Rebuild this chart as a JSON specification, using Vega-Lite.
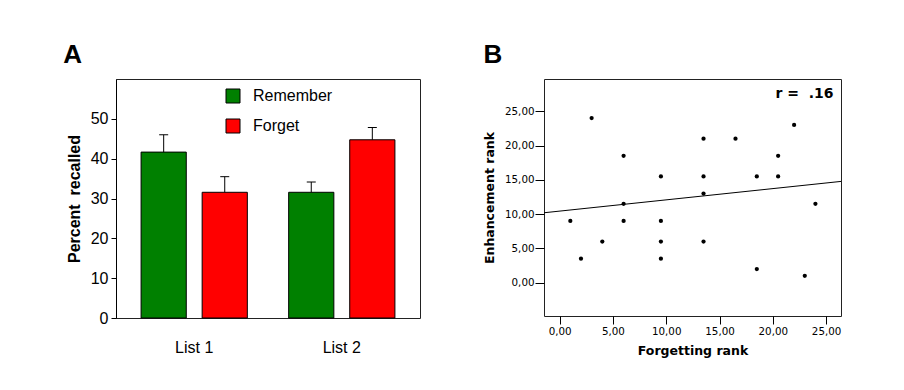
{
  "$schema": "https://vega.github.io/schema/vega-lite/v6.json",
  "background": "white",
  "padding": {"left": 62, "top": 41, "right": 0, "bottom": 0},
  "spacing": 62,
  "config": {
    "view": {"stroke": "#222222", "strokeWidth": 1},
    "axis": {"grid": false}
  },
  "datasets": {
    "bars": [
      {"list": "List 1", "cond": "Remember", "mean": 41.65, "upper": 46.0},
      {"list": "List 1", "cond": "Forget", "mean": 31.56, "upper": 35.48},
      {"list": "List 2", "cond": "Remember", "mean": 31.56, "upper": 34.14},
      {"list": "List 2", "cond": "Forget", "mean": 44.74, "upper": 47.83}
    ],
    "points": [
      {"forgetting": 1, "enhancement": 9},
      {"forgetting": 2, "enhancement": 3.5},
      {"forgetting": 3, "enhancement": 24},
      {"forgetting": 4, "enhancement": 6},
      {"forgetting": 6, "enhancement": 18.5},
      {"forgetting": 6, "enhancement": 11.5},
      {"forgetting": 6, "enhancement": 9},
      {"forgetting": 9.5, "enhancement": 15.5},
      {"forgetting": 9.5, "enhancement": 9},
      {"forgetting": 9.5, "enhancement": 6},
      {"forgetting": 9.5, "enhancement": 3.5},
      {"forgetting": 13.5, "enhancement": 21},
      {"forgetting": 13.5, "enhancement": 15.5},
      {"forgetting": 13.5, "enhancement": 13},
      {"forgetting": 13.5, "enhancement": 6},
      {"forgetting": 16.5, "enhancement": 21},
      {"forgetting": 18.5, "enhancement": 15.5},
      {"forgetting": 18.5, "enhancement": 2},
      {"forgetting": 20.5, "enhancement": 18.5},
      {"forgetting": 20.5, "enhancement": 15.5},
      {"forgetting": 22, "enhancement": 23},
      {"forgetting": 23, "enhancement": 1},
      {"forgetting": 24, "enhancement": 11.5}
    ],
    "fit": [
      {"forgetting": -1.47, "enhancement": 10.2},
      {"forgetting": 26.4, "enhancement": 14.77}
    ],
    "annot": [
      {"forgetting": 25.7, "enhancement": 27.0, "label": "r = \u00a0.16"}
    ]
  },
  "hconcat": [
    {
      "title": {"text": "A", "anchor": "start", "font": "Liberation Sans", "fontSize": 26, "fontWeight": "bold", "color": "black", "dx": -3, "offset": 11},
      "width": 304,
      "height": 239,
      "data": {"name": "bars"},
      "encoding": {
        "x": {
          "field": "list", "type": "nominal",
          "scale": {"paddingInner": 0.28, "paddingOuter": 0.17},
          "axis": {"title": null, "labelAngle": 0, "ticks": false, "domain": false, "labelFont": "Liberation Sans", "labelFontSize": 16, "labelColor": "black", "labelPadding": 21}
        },
        "xOffset": {"field": "cond", "type": "nominal", "sort": ["Remember", "Forget"], "scale": {"paddingInner": 0.26, "paddingOuter": 0}}
      },
      "layer": [
        {
          "mark": {"type": "bar", "stroke": "black", "strokeWidth": 1},
          "encoding": {
            "y": {
              "field": "mean", "type": "quantitative",
              "scale": {"domain": [0, 60], "nice": false},
              "axis": {"values": [0, 10, 20, 30, 40, 50], "title": "Percent \u00a0recalled", "titleFont": "Liberation Sans", "titleFontSize": 16, "titleFontWeight": "bold", "titleColor": "black", "titlePadding": 8, "labelFont": "Liberation Sans", "labelFontSize": 16, "labelColor": "black", "labelPadding": 3, "tickSize": 5, "tickColor": "black", "domainColor": "black"}
            },
            "color": {
              "field": "cond", "type": "nominal",
              "scale": {"domain": ["Remember", "Forget"], "range": ["#008000", "#FF0000"]},
              "legend": {"orient": "none", "legendX": 109, "legendY": 9, "title": null, "symbolType": "square", "symbolSize": 196, "symbolStrokeColor": "black", "symbolStrokeWidth": 1, "symbolOpacity": 1, "labelFont": "Liberation Sans", "labelFontSize": 16, "labelColor": "black", "labelOffset": 12, "rowPadding": 12}
            }
          }
        },
        {
          "mark": {"type": "rule", "color": "black", "strokeWidth": 1},
          "encoding": {
            "y": {"field": "mean", "type": "quantitative"},
            "y2": {"field": "upper"}
          }
        },
        {
          "mark": {"type": "tick", "color": "black", "size": 9, "thickness": 1, "orient": "horizontal", "opacity": 1},
          "encoding": {
            "y": {"field": "upper", "type": "quantitative"}
          }
        }
      ]
    },
    {
      "title": {"text": "B", "anchor": "start", "font": "Liberation Sans", "fontSize": 26, "fontWeight": "bold", "color": "black", "dx": 0, "offset": 11},
      "width": 297,
      "height": 237,
      "encoding": {
        "x": {
          "field": "forgetting", "type": "quantitative",
          "scale": {"domain": [-1.47, 26.4], "nice": false, "zero": false},
          "axis": {"values": [0, 5, 10, 15, 20, 25], "format": ".2f", "labelExpr": "replace(datum.label, '.', ',')", "title": "Forgetting rank", "titleFont": "DejaVu Sans", "titleFontSize": 12.5, "titleFontWeight": "bold", "titleColor": "black", "titlePadding": 8, "labelFont": "DejaVu Sans", "labelFontSize": 10.3, "labelColor": "black", "labelPadding": 2, "labelFlush": false, "labelOverlap": false, "tickSize": 8, "tickColor": "black", "domain": false}
        },
        "y": {
          "field": "enhancement", "type": "quantitative",
          "scale": {"domain": [-4.85, 29.7], "nice": false, "zero": false},
          "axis": {"values": [0, 5, 10, 15, 20, 25], "format": ".2f", "labelExpr": "replace(datum.label, '.', ',')", "title": "Enhancement rank", "titleFont": "DejaVu Sans", "titleFontSize": 12.5, "titleFontWeight": "bold", "titleColor": "black", "titlePadding": 8, "labelFont": "DejaVu Sans", "labelFontSize": 10.3, "labelColor": "black", "labelPadding": 1, "labelOverlap": false, "tickSize": 9, "tickColor": "black", "domain": false}
        }
      },
      "layer": [
        {
          "data": {"name": "points"},
          "mark": {"type": "circle", "color": "black", "opacity": 1, "size": 18}
        },
        {
          "data": {"name": "fit"},
          "mark": {"type": "line", "color": "black", "strokeWidth": 1, "clip": true}
        },
        {
          "data": {"name": "annot"},
          "mark": {"type": "text", "align": "right", "baseline": "alphabetic", "font": "DejaVu Sans", "fontSize": 14, "fontWeight": "bold", "color": "black"},
          "encoding": {"text": {"field": "label"}}
        }
      ]
    }
  ]
}
